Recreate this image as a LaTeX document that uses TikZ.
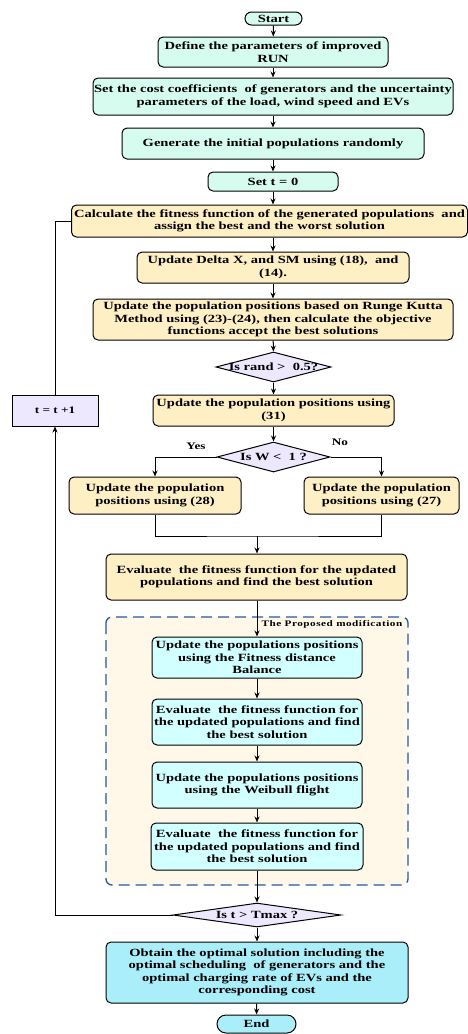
\documentclass[tikz,border=0pt]{standalone}
\usepackage{fontspec}
\setmainfont{Liberation Serif}[FakeStretch=1.32]
\usetikzlibrary{shapes.geometric,arrows.meta}
\definecolor{mint}{RGB}{214,252,240}
\definecolor{cream}{RGB}{255,239,197}
\definecolor{lav}{RGB}{238,232,255}
\definecolor{lcyan}{RGB}{210,255,255}
\definecolor{regfill}{RGB}{255,248,232}
\definecolor{dblue}{RGB}{35,90,160}
\definecolor{fcyan}{RGB}{170,238,250}
\tikzset{
  base/.style={draw, line width=1pt, align=center, inner sep=1pt,
    font={\bfseries\fontsize{11}{12.5}\selectfont}},
  box/.style={base, rounded corners=5pt},
  term/.style={base, rounded corners=6.5pt, fill=fcyan},
  dia/.style={base, diamond, inner sep=0pt, fill=lav},
  arr/.style={line width=1pt, -{Stealth[length=6pt,width=5pt]}},
  ln/.style={line width=1pt},
  lbl/.style={font={\bfseries\fontsize{10}{12}\selectfont}},
}
\begin{document}
\begin{tikzpicture}[x=1pt,y=-1pt]
\useasboundingbox (0,0) rectangle (468,1034);
% region of the proposed modification
\draw[dblue, fill=regfill, line width=1.3pt, dash pattern=on 11pt off 6pt, rounded corners=6pt]
  (106,617) rectangle (408,885);
\node[font={\bfseries\fontsize{8.5}{10}\selectfont\addfontfeature{LetterSpace=6}}] (lblmod) at (332,624.5) {The Proposed modification};

\node[term, fill=mint, minimum width=57pt, minimum height=13pt] (start) at (273.5,18.5) {Start};
\node[box, fill=mint, minimum width=230pt, minimum height=30pt] (define) at (273,52) {Define the parameters of improved\\RUN};
\node[box, fill=mint, minimum width=360pt, minimum height=37pt] (cost) at (273,96.5) {Set the cost coefficients~ of generators and the uncertainty\\parameters of the load, wind speed and EVs};
\node[box, fill=mint, minimum width=302pt, minimum height=31pt] (gen) at (273,143.5) {Generate the initial populations randomly};
\node[box, fill=mint, minimum width=130pt, minimum height=19pt] (t0) at (273,181.5) {Set t = 0};
\node[box, fill=cream, minimum width=396pt, minimum height=32pt] (calc) at (269.5,221) {Calculate the fitness function of the generated populations~ and\\assign the best and the worst solution};
\node[box, fill=cream, minimum width=272pt, minimum height=31pt] (delta) at (273,267.5) {Update Delta X, and SM using (18),~ and\\(14).};
\node[box, fill=cream, minimum width=360pt, minimum height=41pt] (rk) at (273,319.5) {Update the population positions based on Runge Kutta\\Method using (23)-(24), then calculate the objective\\functions accept the best solutions};
\node[dia, minimum width=115pt, minimum height=30pt] (d1) at (273.5,367) {\makebox[0pt]{Is rand >~ 0.5?}};
\node[box, fill=cream, minimum width=241pt, minimum height=31pt] (u31) at (273.5,410.5) {Update the population positions using\\(31)};
\node[base, fill=lav, minimum width=86pt, minimum height=31pt, font={\bfseries\fontsize{10}{12}\selectfont}] (tinc) at (55,410.5) {t = t +1};
\node[dia, minimum width=113pt, minimum height=30pt] (d2) at (273.5,457) {\makebox[0pt]{Is W <~ 1 ?}};
\node[lbl] (yes) at (196,446) {Yes};
\node[lbl] (no) at (340,442) {No};
\node[box, fill=cream, minimum width=172pt, minimum height=37pt] (u28) at (155,495.5) {Update the population\\positions using (28)};
\node[box, fill=cream, minimum width=155pt, minimum height=37pt] (u27) at (381.5,495.5) {Update the population\\positions using (27)};
\coordinate (mid) at (257,536);
\node[box, fill=cream, minimum width=301pt, minimum height=46pt] (eval1) at (256.5,577) {Evaluate~ the fitness function for the updated\\populations and find the best solution};
\node[box, fill=lcyan, minimum width=210pt, minimum height=41pt] (fdb) at (257,657.5) {Update the populations positions\\using the Fitness distance\\Balance};
\node[box, fill=lcyan, minimum width=210pt, minimum height=46pt] (eval2) at (257,722) {Evaluate~ the fitness function for\\the updated populations and find\\the best solution};
\node[box, fill=lcyan, minimum width=210pt, minimum height=46pt] (weib) at (257,785) {Update the populations positions\\using the Weibull flight};
\node[box, fill=lcyan, minimum width=212pt, minimum height=47pt] (eval3) at (257,846.5) {Evaluate~ the fitness function for\\the updated populations and find\\the best solution};
\node[dia, minimum width=168pt, minimum height=24pt] (d3) at (257,915) {\makebox[0pt]{Is t > Tmax ?}};
\node[box, fill=fcyan, minimum width=302pt, minimum height=61pt] (obtain) at (257,972.5) {Obtain the optimal solution including the\\optimal scheduling~ of generators and the\\optimal charging rate of EVs and the\\corresponding cost};
\node[term, minimum width=79pt, minimum height=18pt, rounded corners=9pt] (end) at (256.5,1024) {End};

\draw[arr] (start) -- (define);
\draw[arr] (define) -- (cost);
\draw[arr] (cost) -- (gen);
\draw[arr] (gen) -- (t0);
\draw[arr] (t0.south) -- (t0.south |- calc.north);
\draw[arr] (calc.south -| delta) -- (delta.north);
\draw[arr] (delta) -- (rk);
\draw[arr] (rk) -- (d1);
\draw[arr] (d1) -- (u31);
\draw[arr] (u31) -- (d2);
\draw[arr] (d2.west) -| (u28.north);
\draw[arr] (d2.east) -| (u27.north);
\draw[ln] (u28.south) |- (mid) -| (u27.south);
\draw[arr] (mid) -- (mid |- eval1.north);
\draw[arr] (eval1.south -| fdb) -- (fdb.north);
\draw[arr] (fdb) -- (eval2);
\draw[arr] (eval2) -- (weib);
\draw[arr] (weib) -- (eval3);
\draw[arr] (eval3) -- (d3);
\draw[arr] (d3) -- (obtain);
\draw[arr] (obtain) -- (end);
\draw[arr] (d3.west) -| (tinc.south);
\draw[ln] (tinc.north) |- (calc.west);
\end{tikzpicture}
\end{document}
